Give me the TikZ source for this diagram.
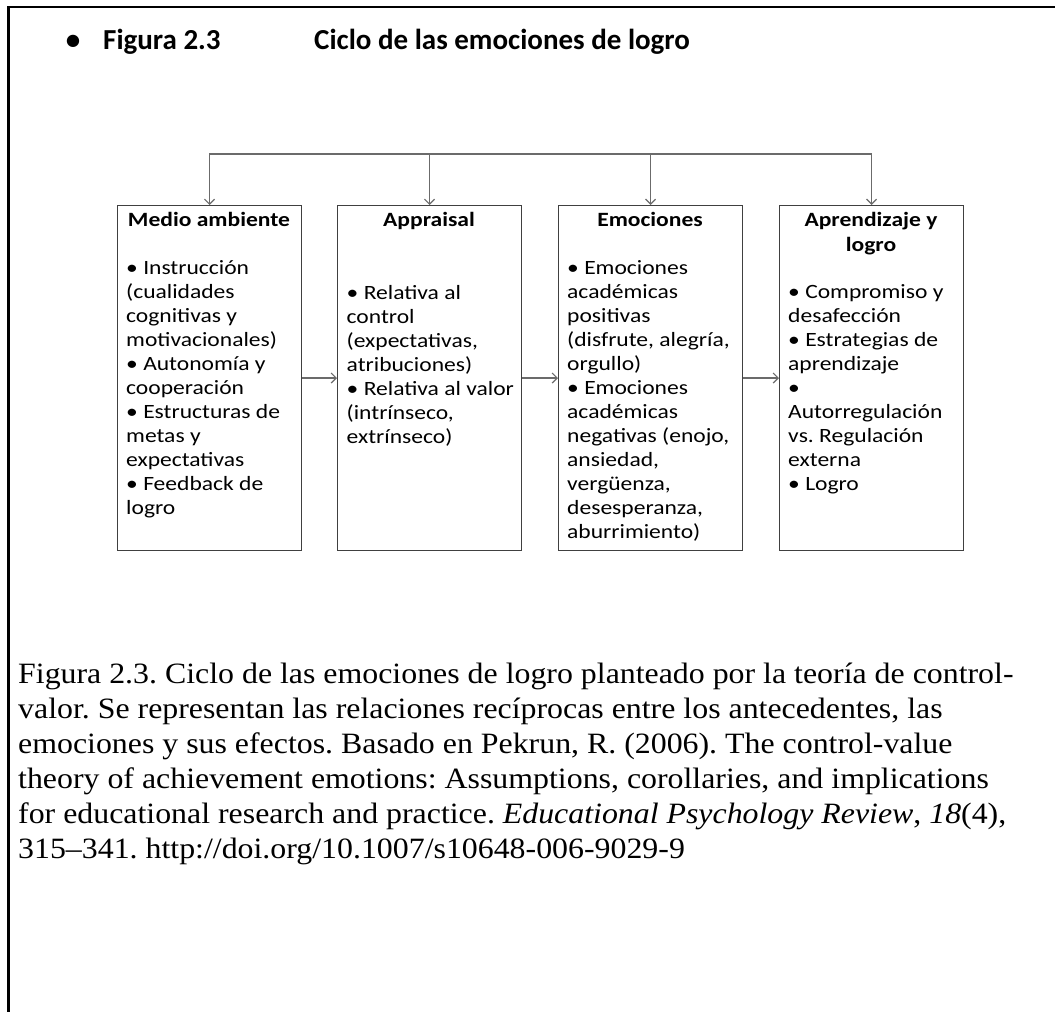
\documentclass[tikz,border=0pt]{standalone}
\usepackage{fontspec}
\setmainfont{Liberation Serif}[FakeStretch=1.08]
\newfontfamily\boxfont{Carlito}[FakeStretch=1.16]
\newfontfamily\headfont{Carlito}
\usetikzlibrary{arrows.meta}
\frenchspacing

\begin{document}
\begin{tikzpicture}[x=1pt,y=-1pt,
  >={Straight Barb[length=5pt,width=10pt]},
  stage/.style={draw=black!75, line width=1.1pt, minimum width=184pt,
    minimum height=345pt, anchor=north west, inner sep=0pt},
  stagetitle/.style={font=\boxfont\bfseries\fontsize{20.3}{25}\selectfont,
    align=center, anchor=base, inner sep=0pt},
  stagebody/.style={font=\boxfont\fontsize{20.3}{24}\selectfont,
    align=left, anchor=base west, inner sep=0pt},
  headtext/.style={font=\headfont\bfseries\fontsize{29}{34}\selectfont, inner sep=0pt},
  link/.style={draw=black!58, line width=1.2pt},
  caption/.style={font=\fontsize{29.5}{35}\selectfont, anchor=base west, inner sep=0pt},
]
\useasboundingbox (0,0) rectangle (1055,1012);

% page frame (left and top rules)
\draw[line width=2.6pt] (8.5,1012) -- (8.5,6.8) -- (1055,6.8);

% heading
\node[headtext, anchor=base] (hbul) at (73,49) {\textbullet};
\node[headtext, anchor=base west] (hnum) at (103,49) {Figura 2.3};
\node[headtext, anchor=base west] (htxt) at (314,49) {Ciclo de las emociones de logro};

% the four stages
\node[stage] (b1) at (117,205) {};
\node[stage] (b2) at (337,205) {};
\node[stage] (b3) at (558,205) {};
\node[stage] (b4) at (779,205) {};

% stage headings (base = baseline of the last line)
\node[stagetitle] (h1) at (209,226.5) {Medio ambiente};
\node[stagetitle] (h2) at (429,226.5) {Appraisal};
\node[stagetitle] (h3) at (650,226.5) {Emociones};
\node[stagetitle] (h4) at (871,251) {Aprendizaje y\\logro};

% stage contents (base = baseline of the last line)
\node[stagebody] (t1) at (126,514.5) {\textbullet{} Instrucción\\(cualidades\\cognitivas y\\motivacionales)\\\textbullet{} Autonomía y\\cooperación\\\textbullet{} Estructuras de\\metas y\\expectativas\\\textbullet{} Feedback de\\logro};
\node[stagebody] (t2) at (346.5,443) {\textbullet{} Relativa al\\control\\(expectativas,\\atribuciones)\\\textbullet{} Relativa al valor\\(intrínseco,\\extrínseco)};
\node[stagebody] (t3) at (567,538.5) {\textbullet{} Emociones\\académicas\\positivas\\(disfrute, alegría,\\orgullo)\\\textbullet{} Emociones\\académicas\\negativas (enojo,\\ansiedad,\\vergüenza,\\desesperanza,\\aburrimiento)};
\node[stagebody] (t4) at (788,490.5) {\textbullet{} Compromiso y\\desafección\\\textbullet{} Estrategias de\\aprendizaje\\\textbullet\\Autorregulación\\vs. Regulación\\externa\\\textbullet{} Logro};

% forward chain
\draw[link, ->] (b1.east) -- (b2.west);
\draw[link, ->] (b2.east) -- (b3.west);
\draw[link, ->] (b3.east) -- (b4.west);

% feedback rail above the stages
\coordinate (r1) at (b1.north |- 0,154);
\coordinate (r2) at (b2.north |- 0,154);
\coordinate (r3) at (b3.north |- 0,154);
\coordinate (r4) at (b4.north |- 0,154);
\draw[link, <->] (b1.north) -- (r1) -- (r4) -- (b4.north);
\draw[link, ->] (r2) -- (b2.north);
\draw[link, ->] (r3) -- (b3.north);

% caption
\node[caption] (c1) at (18,683) {Figura 2.3. Ciclo de las emociones de logro planteado por la teoría de control-};
\node[caption] (c2) at (18,718) {valor. Se representan las relaciones recíprocas entre los antecedentes, las};
\node[caption] (c3) at (18,753) {emociones y sus efectos. Basado en Pekrun, R. (2006). The control-value};
\node[caption] (c4) at (18,788) {theory of achievement emotions: Assumptions, corollaries, and implications};
\node[caption] (c5) at (18,823) {for educational research and practice. \textit{Educational Psychology Review}, \textit{18}(4),};
\node[caption] (c6) at (18,858) {315–341. http://doi.org/10.1007/s10648-006-9029-9};
\end{tikzpicture}
\end{document}
